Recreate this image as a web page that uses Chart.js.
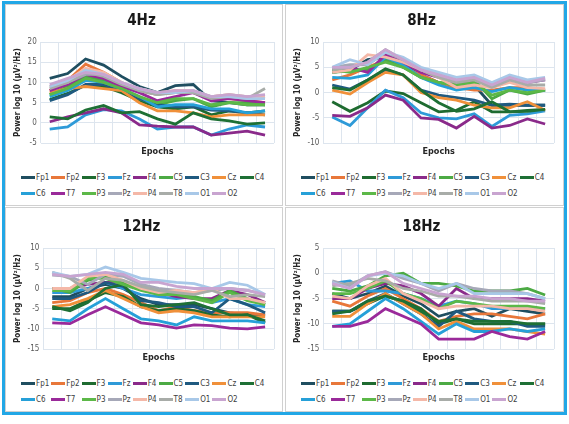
<!DOCTYPE html>
<html>
<head>
<meta charset="utf-8">
<script src="https://cdn.jsdelivr.net/npm/chart.js@4.4.1/dist/chart.umd.min.js"></script>
<style>
  body { margin: 0; background: #fff; width: 569px; height: 424px; overflow: hidden;
         font-family: "Liberation Sans Narrow", "DejaVu Sans Condensed", sans-serif; }
  #frame { position: absolute; left: 2px; top: 1px; width: 565px; height: 414px;
           box-sizing: border-box; border: 3px solid #22a7e6; }
  .panel { position: absolute; box-sizing: border-box; border: 1px solid #d0d0d0; background: #fff; }
  .panel canvas { position: absolute; left: 0; }
  .legend { position: absolute; left: 15px; display: grid; grid-template-columns: repeat(9, auto);
            column-gap: 2px; row-gap: 5px; font-size: 8px; line-height: 11px; color: #404040; }
  .item { display: flex; align-items: center; white-space: nowrap; }
  .item i { display: inline-block; width: 14px; height: 3px; margin-right: 1px; }
</style>
</head>
<body>
<div id="frame"></div>
<div class="panel" style="left:5px;top:4px;width:278px;height:202px"><canvas id="c4"></canvas><div class="legend" id="l4"></div></div>
<div class="panel" style="left:285px;top:4px;width:279px;height:202px"><canvas id="c8"></canvas><div class="legend" id="l8"></div></div>
<div class="panel" style="left:5px;top:207px;width:278px;height:205px"><canvas id="c12"></canvas><div class="legend" id="l12"></div></div>
<div class="panel" style="left:285px;top:207px;width:279px;height:205px"><canvas id="c18"></canvas><div class="legend" id="l18"></div></div>
<script>
const channels = ['Fp1', 'Fp2', 'F3', 'Fz', 'F4', 'C5', 'C3', 'Cz', 'C4', 'C6', 'T7', 'P3', 'Pz', 'P4', 'T8', 'O1', 'O2'];
const colors = ['#1f4e60', '#e8773a', '#1e6b30', '#2e9ad8', '#8a2a8a', '#4caa44', '#1f5a80', '#f0903a', '#1e7035',
                '#26a0d8', '#9a2a9a', '#5cb848', '#a6a8b8', '#f4b8a8', '#a8aca8', '#a8c8e8', '#c8a4d0'];
const epochs = ['1', '2', '3', '4', '5', '6', '7', '8', '9', '10', '11', '12', '13'];

// one row per channel, same order as channels
const power4Hz = [
  [11, 12.2, 15.8, 14.3, 11.5, 9, 7.5, 9.2, 9.5, 5.5, 5, 4.5, 4.5],
  [8, 10.5, 14.5, 12.5, 10, 8, 7, 8, 7.5, 6, 6, 5.5, 5],
  [5.8, 7.3, 9.3, 9, 7.5, 5.5, 4, 3.5, 4, 2, 3, 2.5, 3],
  [-1.5, -1, 2, 3.3, 3, 1, -1.5, -1, -1, -3, -1.5, -0.5, -1],
  [0.3, 1.5, 2.5, 3.5, 2.5, -0.5, -0.8, -1, -1, -3, -2.5, -2, -3],
  [7, 9, 11.5, 10.5, 8.5, 6, 4.5, 5.5, 6, 4, 5, 5, 4.5],
  [5.5, 7, 9.5, 9.5, 8, 6, 4.5, 4, 4, 3.2, 3, 2.5, 2],
  [7.5, 8.5, 9, 8.5, 8, 5, 3, 3, 2.5, 1.5, 2, 2, 2],
  [1.5, 1, 3.2, 4.3, 2.5, 2.8, 1, -0.3, 2.5, 1, 0.5, -0.3, 0],
  [6.5, 8, 10.5, 10, 8.5, 6.5, 4, 4.5, 4.5, 3.5, 3.5, 2.5, 3],
  [8, 9.5, 12, 11, 9, 7.5, 5.5, 6.5, 7.5, 5.5, 6, 5.5, 5],
  [7, 8.5, 11, 10, 8.5, 6.5, 5, 6, 6, 4.5, 5, 4.5, 4.5],
  [9, 10, 12, 12, 10, 8, 7, 7.5, 7.5, 6.5, 7, 6.5, 6],
  [9, 10.5, 13.5, 12.5, 10, 8.5, 7.5, 8, 8, 6.5, 7, 6.5, 6.5],
  [8.5, 10, 12.5, 11.5, 9.5, 8, 7, 7.5, 7.5, 6, 6.5, 6, 8.5],
  [9, 10.5, 13, 12, 10, 8.5, 7.5, 7.5, 8, 6.5, 6.5, 6, 6],
  [9.5, 11, 12.5, 12, 10, 8.5, 7.5, 8, 8, 6.5, 7, 6.5, 7]
];
const power8Hz = [
  [4, 4.5, 6.5, 7, 5.5, 3.5, 2, 1, 1.5, -2.5, -2.5, -2.5, -2.5],
  [2.5, 3.5, 5, 6.5, 5, 3.5, 2, 1, 0.5, 0.5, 1, 1, 0.5],
  [-1.8, -3.7, -2, 0.3, -0.2, -2, -3.8, -3.5, -1.8, -3.8, -3.8, -3.5, -3.3],
  [-4.8, -6.5, -3, 0.5, -1, -4, -5, -5.2, -4.2, -6.7, -4.5, -4.2, -3.6],
  [-4.5, -4.7, -3, -0.5, -1.5, -5, -5.3, -7, -4.7, -7, -6.5, -5.2, -6.2],
  [4, 4.3, 4.5, 6.5, 5, 3, 2, 1.5, 2.5, -1.2, 0.5, -0.3, 0.5],
  [1.5, 0.7, 2.5, 4.5, 3.5, 0.5, -0.5, -1, -1.5, -2.5, -2.3, -2.5, -2.5],
  [0.5, -0.3, 2, 4, 3.5, 0, -1, -1.5, -2.5, -3, -3, -1.8, -3.5],
  [1, 0.5, 2.5, 4.7, 3.5, 0.5, -2, -3.7, -3.2, -1.8, -3.8, -3.7, -3.3],
  [3, 2.8, 3.5, 7, 5.5, 3, 1.5, 0.5, 1, 0.2, 1, 0.5, 0.5],
  [4.5, 5, 4, 7.5, 6, 4, 3, 2, 2.5, 1.2, 2.5, 2, 2.5],
  [4.5, 4, 5, 6, 5, 3, 2, 1.5, 2, -0.5, 0.5, 0, 0.5],
  [5, 5.5, 5.5, 8, 6.5, 4.5, 3.5, 2.5, 3, 1.5, 3, 2, 2.5],
  [4, 4.5, 7.5, 7, 6, 4.5, 3, 1, 1.5, 1, 2, 1, 0.8],
  [4.5, 5, 6, 8.5, 6.5, 4.5, 3, 2, 2.5, 1, 2.5, 1.5, 1.5],
  [5, 6.5, 5.5, 8, 7, 5, 4, 3, 3.5, 2, 3.5, 2.5, 3],
  [5, 5, 6, 8.5, 6.5, 4.5, 3.5, 2.5, 3, 1.5, 3, 2, 2.8]
];
const power12Hz = [
  [-2, -2, 0, 1, 0, -2.5, -4, -4, -4, -5, -6, -6.5, -6.5],
  [-3.5, -3, -1, 0, -1.5, -3.5, -5.5, -4.5, -5.5, -6, -6, -6, -6.5],
  [-5, -5, -3, -1, -2, -4.5, -5.5, -5, -5.5, -6.5, -7, -6.5, -8.5],
  [-1, -1, 0, 1.5, 0, -1.5, -2, -2.5, -2, -3.5, -2.5, -4, -4.5],
  [0, 0, 1, 1.5, 1.5, 0, -1, -2, -2.5, -2.5, -0.5, -1.5, -3.5],
  [0, -1, 2, 3, 1.5, 0, -1, -1, -2, -3, -0.5, -2.5, -4],
  [-2.5, -2.5, -1, 1.5, 0.5, -3, -3.5, -4.5, -4.5, -6, -2.5, -4, -6],
  [-4.5, -4, -2.5, -0.5, -2.5, -4.5, -6, -5.5, -6, -7, -7, -7, -7],
  [-4.5, -5.5, -3.5, 0, 1, -4, -4.5, -4, -3.5, -5, -6.5, -6.5, -8],
  [-7.5, -8, -5, -2.5, -5, -7.5, -8, -9, -7, -8, -8, -8, -8.5],
  [-8.5, -8.7, -6.5, -4.5, -6.5, -8.5, -9, -9.8, -9, -9.2, -9.8, -10, -9.5],
  [-0.5, -0.5, 2.5, 2.5, 1, -0.5, -1.5, -1.5, -2.5, -3.5, -1, -3, -4],
  [3.3, 3, 1, 3.5, 3, 1, 0, -0.5, -1, -0.5, 0, -0.5, -1.5],
  [0, 0, 3, 3.5, 2, 0, -1, -0.5, -1, 0, -2.5, -2.5, -3.5],
  [4, 2.5, -0.5, 2.5, 2, 0.5, -0.5, -1, -1.5, -0.5, -2, -1.5, -2],
  [4, 3, 3.5, 5.3, 4, 2.5, 2, 1.5, 1.2, 0, 1.5, 0.8, -1.5],
  [3.5, 3, 3.5, 4, 3.5, 1.5, 1.5, 0.5, 0, 0, 0, -0.5, -1.5]
];
const power18Hz = [
  [-4, -5, -4, -2.5, -4.5, -6, -8.5, -7.5, -7, -8.5, -7, -7.5, -8],
  [-5.5, -6.5, -4.5, -3, -5, -7, -9.5, -8.5, -8, -8, -8.5, -9, -8],
  [-7.5, -7.5, -6, -4.5, -5.5, -7, -10, -9, -10, -10, -10, -10, -10],
  [-2, -1.5, -3.5, -3.5, -4, -5, -6.5, -5.5, -6, -7, -7, -7, -7],
  [-5, -5, -3, -2, -2.5, -4, -6.5, -3, -5, -5, -5, -5, -5.5],
  [-3, -3.5, -2.5, -0.5, 0, -2, -2, -2.5, -3.5, -3.5, -3.5, -3, -4.3],
  [-7.5, -7.5, -5.5, -4, -6, -8, -10.5, -7.5, -9, -9.5, -9.5, -10.5, -10.5],
  [-8.5, -8.5, -6, -4, -6, -8, -11, -9.5, -11, -11, -11, -11.5, -12],
  [-8, -7.5, -5.5, -4.5, -5.5, -7.5, -9.5, -9, -9.5, -9.5, -9.5, -10, -10],
  [-10.5, -10, -7.5, -5, -7, -9.5, -12, -10, -11.5, -11.5, -11, -11.5, -11],
  [-10.5, -10.5, -9.5, -7, -8.5, -10, -13, -13, -13, -11.5, -12.5, -13, -11.5],
  [-4, -4, -3, -1.5, -4, -5, -7, -5.5, -6, -6.5, -6.5, -6.5, -7],
  [-1.5, -2.5, -0.5, 0.3, -1, -2, -3.5, -2, -3, -3.5, -3.5, -4, -5],
  [-4.5, -5, -2.5, -1, -4, -5.5, -7, -6.5, -6.5, -6.5, -7, -7, -7.5],
  [-2.5, -2, -1, -1.5, -3, -3.5, -4.5, -4.5, -5, -5.5, -5.5, -5.5, -6],
  [-1.8, -3, -0.5, 0, -0.5, -2, -3, -2, -4, -4, -4, -4, -5],
  [-2, -3, -0.5, 0.3, -2, -3, -4, -4.5, -4.5, -5, -5, -5.5, -5.5]
];

const FONT = '"Liberation Sans Narrow", "DejaVu Sans Condensed", sans-serif';

function makeLegend(id, top) {
  const box = document.getElementById(id);
  box.style.top = top + 'px';
  channels.forEach((name, i) => {
    const item = document.createElement('div');
    item.className = 'item';
    item.innerHTML = '<i style="background:' + colors[i] + '"></i>' + name;
    box.appendChild(item);
  });
}

function makeChart(canvasId, legendId, title, rows, yMin, yMax, shift) {
  const canvas = document.getElementById(canvasId);
  canvas.style.top = shift + 'px';
  canvas.style.width = '276px';
  canvas.style.height = '154px';
  canvas.width = 276;
  canvas.height = 154;

  new Chart(canvas, {
    type: 'line',
    data: {
      labels: epochs,
      datasets: rows.map((vals, i) => ({
        label: channels[i],
        data: vals,
        borderColor: colors[i],
        backgroundColor: colors[i],
        borderWidth: 2.8,
        pointRadius: 0,
        tension: 0,
        order: channels.length - i, // later series on top, like Excel
      }))
    },
    options: {
      responsive: false,
      animation: false,
      layout: { padding: { left: 3, right: 8, top: 0, bottom: 2 } },
      plugins: {
        legend: { display: false },
        tooltip: { enabled: false },
        title: {
          display: true,
          text: title,
          color: '#1a1a1a',
          font: { family: FONT, size: 15, weight: 'bold' },
          padding: { top: 7, bottom: 12 }
        }
      },
      scales: {
        x: {
          offset: true,
          grid: { color: '#dde5ee', offset: true, drawTicks: false },
          border: { display: false },
          ticks: { display: false },
          title: {
            display: true,
            text: 'Epochs',
            color: '#262626',
            font: { family: FONT, size: 9, weight: 'bold' },
            padding: { top: 3, bottom: 0 }
          }
        },
        y: {
          min: yMin,
          max: yMax,
          grid: { color: '#dde5ee', drawTicks: false },
          border: { display: false },
          ticks: {
            stepSize: 5,
            padding: 4,
            color: '#595959',
            font: { family: FONT, size: 8 }
          },
          title: {
            display: true,
            text: 'Power log 10 (µV²/Hz)',
            color: '#262626',
            font: { family: FONT, size: 8, weight: 'bold' },
            padding: { top: 4, bottom: 1 }
          }
        }
      }
    }
  });
  makeLegend(legendId, shift + 167);
}

makeChart('c4', 'l4', '4Hz', power4Hz, -5, 20, 0);
makeChart('c8', 'l8', '8Hz', power8Hz, -10, 10, 0);
makeChart('c12', 'l12', '12Hz', power12Hz, -15, 10, 3);
makeChart('c18', 'l18', '18Hz', power18Hz, -15, 5, 3);
</script>
</body>
</html>
